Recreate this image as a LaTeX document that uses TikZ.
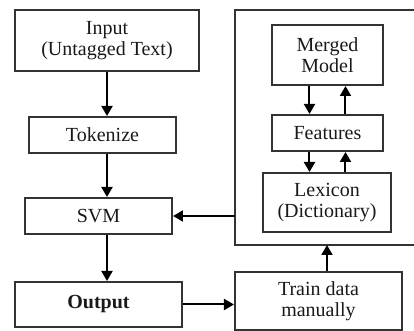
\documentclass[tikz,border=0pt]{standalone}
\usepackage{fontspec}
\setmainfont{Liberation Serif}
\usetikzlibrary{arrows.meta,calc}

\begin{document}
\begin{tikzpicture}[x=0.5pt,y=-0.5pt,
  box/.style={draw=black!80,line width=\heavy,align=center,inner sep=0pt,
    text=black!90,font=\fontsize{10}{10.5}\selectfont},
  arr/.style={-{Triangle[width=5.5pt,length=5pt]},line width=\heavy,draw=black}]

\def \heavy{1pt}
\def \gap{9pt}

\useasboundingbox (0,0) rectangle (414,331);

% left column
\node[box,minimum width=92pt,minimum height=30.5pt] (input) at (107,40.5) {Input\\(Untagged Text)};
\node[box,minimum width=73.5pt,minimum height=18pt] (tokenize) at (102.5,135) {Tokenize};
\node[box,minimum width=73.5pt,minimum height=18pt] (svm) at (98.5,216) {SVM};
\node[box,minimum width=83.5pt,minimum height=22.5pt] (output) at (98.5,304.5) {\textbf{Output}};

% right panel
\coordinate (panel-nw) at (235,10);
\coordinate (panel-sw) at (235,245);
\draw[line width=\heavy,black!80] (414,10) -- (panel-nw) -- (panel-sw) -- (414,245);

\node[box,minimum width=55.5pt,minimum height=30pt] (merged) at (327.5,55) {Merged\\Model};
\node[box,minimum width=55.5pt,minimum height=18pt] (features) at (327.5,133) {Features};
\node[box,minimum width=64pt,minimum height=29.5pt] (lexicon) at (327,202.5) {Lexicon\\(Dictionary)};
\node[box,minimum width=83.5pt,minimum height=29pt] (train) at (318.5,301) {Train data\\manually};

% arrows
\draw[arr] (input.south) -- (input.south |- tokenize.north);
\draw[arr] (input.south |- tokenize.south) -- (input.south |- svm.north);
\draw[arr] (input.south |- svm.south) -- (input.south |- output.north);

\draw[arr] ([xshift=-\gap]merged.south) -- ([xshift=-\gap]merged.south |- features.north);
\draw[arr] ([xshift=\gap]merged.south |- features.north) -- ([xshift=\gap]merged.south);
\draw[arr] ([xshift=-\gap]features.south) -- ([xshift=-\gap]features.south |- lexicon.north);
\draw[arr] ([xshift=\gap]features.south |- lexicon.north) -- ([xshift=\gap]features.south);

\draw[arr] (svm.east -| panel-sw) -- (svm.east);
\draw[arr] (output.east) -- (output.east -| train.west);
\draw[arr] (lexicon.south |- train.north) -- (lexicon.south |- panel-sw);

\end{tikzpicture}
\end{document}
